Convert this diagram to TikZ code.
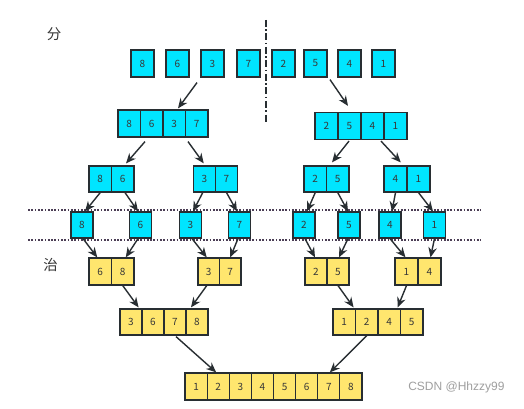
\documentclass[tikz,border=0pt]{standalone}
\usepackage{fontspec}
\setmainfont{Noto Sans CJK SC}
\newfontfamily\wmfont{Liberation Sans}
\usetikzlibrary{arrows.meta,calc}
\definecolor{cy}{RGB}{0,229,255}
\definecolor{yl}{RGB}{255,230,110}
\definecolor{bd}{RGB}{40,46,50}
\definecolor{tx}{RGB}{55,55,55}
\definecolor{dotc}{RGB}{75,62,85}
\newcommand\cellrow[6]{\foreach \v [count=\i] in {#6} {\node[#5, minimum width=#4pt] (#1\i) at ({#2+(\i-0.5)*#4},#3) {\v};}}
\tikzset{
  cell/.style={draw=bd, line width=1.2pt, inner sep=0pt, minimum height=27pt, font=\fontsize{10}{10}\selectfont, text=tx},
  cb/.style={cell, fill=cy},
  yb/.style={cell, fill=yl},
  arr/.style={draw=bd, line width=1.4pt, -{Stealth[length=10pt,width=8.5pt]}},
  dotline/.style={draw=dotc, line width=1.7pt, dash pattern=on 1.7pt off 1.6pt},
  divline/.style={draw=bd, line width=1.2pt, dash pattern=on 7pt off 2.5pt on 1.5pt off 2.5pt},
  lbl/.style={font=\fontsize{14.5}{14.5}\selectfont, text=tx}
}
\begin{document}
\begin{tikzpicture}[x=1pt,y=-1pt]
\useasboundingbox (0,0) rectangle (524,409);
\fill[white] (0,0) rectangle (524,409);

% labels
\node[lbl] (fen) at (54,34) {分};
\node[lbl] (zhi) at (50.5,265) {治};
\node[anchor=east, text=gray!75, font=\wmfont\fontsize{12}{12}\selectfont] (wm) at (508,387) {CSDN @Hhzzy99};

% divider and dotted lines
\draw[divline] (266,20) -- (266,122);
\draw[dotline] (28,210) -- (481,210);
\draw[dotline] (28,240) -- (481,240);

% row 1
\foreach \v/\x [count=\i] in {8/142.5,6/177.5,3/212.5,7/248.5,2/283.5,5/315.5,4/349.5,1/383.5}
  \node[cb, minimum width=23pt] (r1\i) at (\x,63.5) {\v};

% row 2
\cellrow{r2L}{118}{123.5}{22.5}{cb}{8,6,3,7}
\cellrow{r2R}{315}{126}{23}{cb}{2,5,4,1}

% row 3
\cellrow{r3a}{89}{179}{22.5}{cb, minimum height=26pt}{8,6}
\cellrow{r3b}{193.5}{179}{22}{cb, minimum height=26pt}{3,7}
\cellrow{r3c}{304}{179}{22.5}{cb, minimum height=26pt}{2,5}
\cellrow{r3d}{384}{179}{23}{cb, minimum height=26pt}{4,1}

% row 4
\foreach \v/\x/\n in {8/82/a,6/140.5/b,3/190.5/c,7/239.5/d,2/304/e,5/349/f,4/390/g,1/434.5/h}
  \node[cb, minimum width=22pt, minimum height=26pt] (r4\n) at (\x,225) {\v};

% row 5
\cellrow{r5a}{89}{271.5}{22.5}{yb}{6,8}
\cellrow{r5b}{198}{271.5}{21.5}{yb}{3,7}
\cellrow{r5c}{305}{271.5}{22}{yb}{2,5}
\cellrow{r5d}{395}{271.5}{23}{yb}{1,4}

% row 6
\cellrow{r6a}{120}{322}{22}{yb, minimum height=26pt}{3,6,7,8}
\cellrow{r6b}{333}{322}{22.5}{yb, minimum height=26pt}{1,2,4,5}

% row 7
\cellrow{r7}{185}{386.5}{22.125}{yb}{1,2,3,4,5,6,7,8}

% arrows row1 -> row2
\draw[arr] ($(r13.south)+(-15.5,5)$) -- ($(r2L3.north)+(3.75,-1)$);
\draw[arr] ($(r16.south)+(14.5,2)$) -- ($(r2R2.north)+(-1.5,-6)$);

% row2 -> row3
\draw[arr] ($(r2L2.south)+(-6.75,4)$) -- ($(r3a2.north)+(3.25,-2)$);
\draw[arr] ($(r2L4.south)+(-8.75,4)$) -- ($(r3b1.north)+(-0.75,-2)$);
\draw[arr] ($(r2R2.south)+(-0.5,1)$) -- ($(r3c2.north)+(-5.75,-3)$);
\draw[arr] ($(r2R3.south)+(8.5,1)$) -- ($(r3d1.north)+(5.25,-3)$);

% row3 -> row4
\draw[arr] (r3a1.south) -- ($(r4a.north)+(3,0)$);
\draw[arr] ($(r3a2.south)+(2.25,0)$) -- ($(r4b.north)+(-2.5,0)$);
\draw[arr] ($(r3b1.south)+(-1.75,0)$) -- ($(r4c.north)+(2.5,0)$);
\draw[arr] (r3b2.south) -- ($(r4d.north)+(-2.5,0)$);
\draw[arr] (r3c1.south) -- ($(r4e.north)+(3,0)$);
\draw[arr] (r3c2.south) -- ($(r4f.north)+(-1,0)$);
\draw[arr] (r3d1.south) -- ($(r4g.north)+(2,0)$);
\draw[arr] (r3d2.south) -- ($(r4h.north)+(-1.5,0)$);

% row4 -> row5
\draw[arr] ($(r4a.south)+(1,0)$) -- ($(r5a1.north)+(-3,0)$);
\draw[arr] ($(r4b.south)+(-2.5,0)$) -- ($(r5a2.north)+(3,0)$);
\draw[arr] ($(r4c.south)+(1.5,0)$) -- ($(r5b1.north)+(-2,0)$);
\draw[arr] ($(r4d.south)+(-1.5,0)$) -- (r5b2.north);
\draw[arr] ($(r4e.south)+(1,0)$) -- ($(r5c1.north)+(-1,0)$);
\draw[arr] ($(r4f.south)+(-1,0)$) -- ($(r5c2.north)+(1,0)$);
\draw[arr] (r4g.south) -- ($(r5d1.north)+(-1,0)$);
\draw[arr] (r4h.south) -- ($(r5d2.north)+(1,0)$);

% row5 -> row6
\draw[arr] (r5a2.south) -- ($(r6a1.north east)+(-4,-1)$);
\draw[arr] ($(r5b1.south)+(-2,0)$) -- ($(r6a4.north)+(-6,-1)$);
\draw[arr] (r5c2.south) -- ($(r6b1.north east)+(-2.5,-1)$);
\draw[arr] (r5d1.south) -- ($(r6b3.north east)+(-3.5,-1)$);

% row6 -> row7
\draw[arr] ($(r6a3.south)+(1,1)$) -- ($(r72.north)+(-2,0)$);
\draw[arr] (r6b2.south) -- ($(r77.north)+(1,0)$);
\end{tikzpicture}
\end{document}
